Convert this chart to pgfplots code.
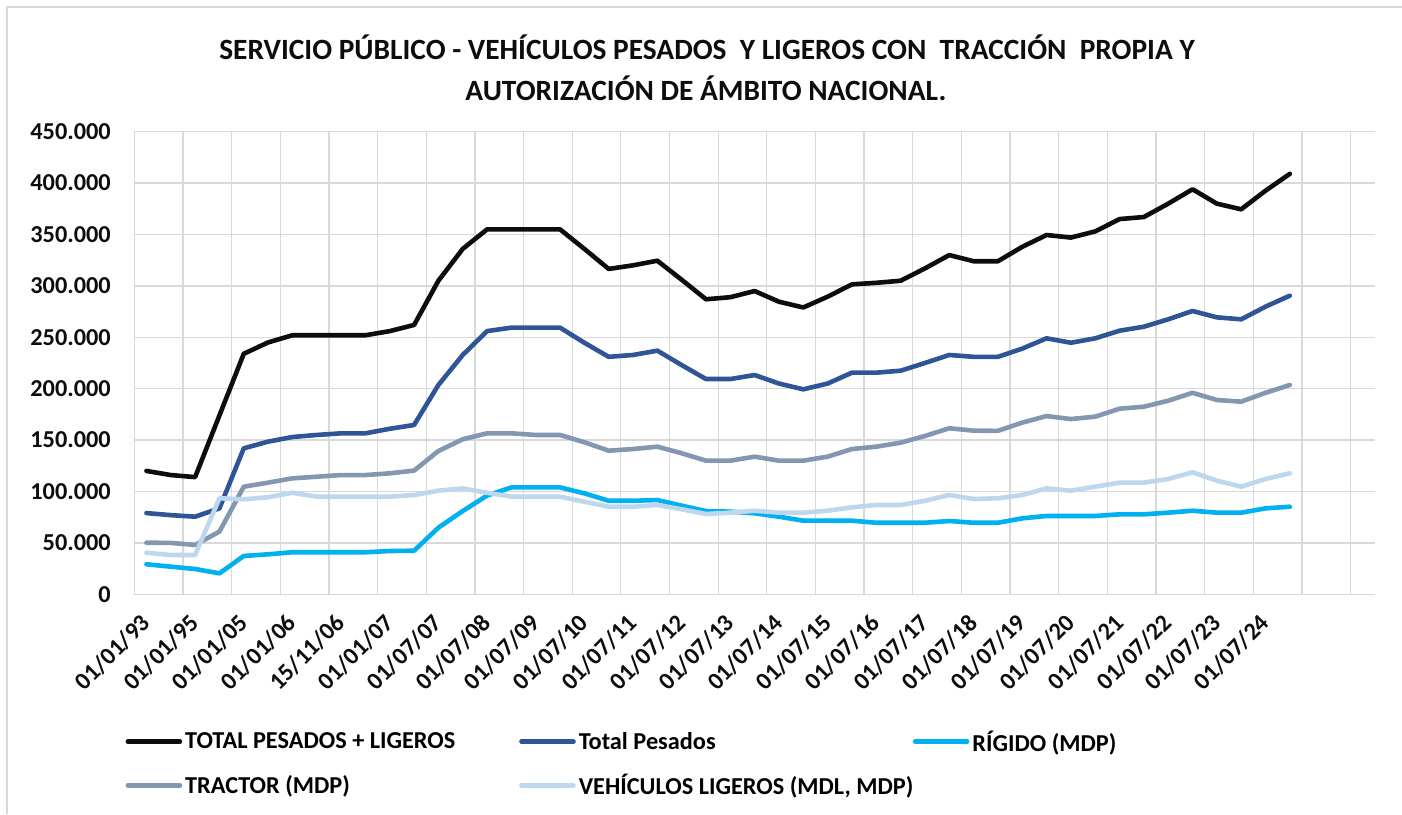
\documentclass[border=0pt]{standalone}
\usepackage{pgfplots}
\usepackage{pgfplotstable}
\pgfplotsset{compat=1.18}
\usepackage{fontspec}
\setmainfont{Carlito}
\definecolor{cTot}{HTML}{0D0D0D}
\definecolor{cPes}{HTML}{2F5597}
\definecolor{cRig}{HTML}{00B0F0}
\definecolor{cTra}{HTML}{8497B0}
\definecolor{cLig}{HTML}{BDD7EE}
\definecolor{cGrid}{HTML}{D9D9D9}
\pgfplotstableread{
i total pesados rigido tractor ligeros
0 120000 79000 29200 50200 40500
1 116000 77000 26900 50000 38200
2 114000 75500 24600 48000 38200
3 174000 83600 20400 61000 93400
4 234000 142000 37300 104700 92400
5 245000 148500 38900 108600 94400
6 252000 153000 40900 112800 98800
7 252000 155000 40900 114400 95000
8 252000 156600 40900 116000 95000
9 252000 156600 40900 116000 95000
10 256000 161000 42100 117700 95000
11 262000 164700 42400 120300 96600
12 305000 203600 64800 139400 100800
13 336000 232800 81000 150800 103000
14 355000 256000 96000 156600 98800
15 355000 259400 104000 156600 95000
16 355000 259400 104000 155000 95000
17 355000 259400 104000 155000 95000
18 336000 244700 98200 147900 90000
19 316500 231000 91000 139700 85200
20 320000 232800 91000 141300 85200
21 324500 237000 91700 143600 86900
22 306000 223000 86200 137200 82700
23 287000 209400 81000 130000 78100
24 289000 209400 80400 130000 79400
25 295000 213300 78800 133900 81300
26 284600 205000 75500 130000 79400
27 279000 199400 71600 130000 79400
28 289500 205000 71600 133900 81300
29 301500 215600 71600 141300 84600
30 303000 215600 69600 143600 86900
31 305000 217500 69600 147500 86900
32 317000 225000 69600 154000 91000
33 330000 232800 71300 161500 96600
34 324000 231000 69600 159200 92700
35 324000 231000 69600 159000 93400
36 338000 239000 73900 167000 96600
37 349500 249000 76200 173400 103000
38 347000 244700 76200 170500 100800
39 353000 249000 76200 172800 104700
40 365000 256400 77800 180500 108600
41 367000 260300 77800 182500 108600
42 380000 267500 79400 188300 112200
43 394000 275600 81300 196000 118700
44 380000 269400 79400 189000 110500
45 374500 267500 79400 187400 104700
46 392600 279800 83600 196000 112200
47 409000 290500 85200 203600 117700
}\datatable
\begin{document}
\begin{tikzpicture}[x=1pt,y=1pt]
\useasboundingbox (0,0) rectangle (1402,814);
\draw[cGrid, line width=1.2pt] (7,0) -- (7,807) -- (1402,807);
\node[font=\fontsize{29.4}{33}\selectfont\bfseries, color=cTot] at (707,767) {SERVICIO PÚBLICO - VEHÍCULOS PESADOS \ Y LIGEROS CON \ TRACCIÓN \ PROPIA Y};
\node[font=\fontsize{29.4}{33}\selectfont\bfseries, color=cTot] at (706,726) {AUTORIZACIÓN DE ÁMBITO NACIONAL.};
\begin{axis}[
  at={(134.3pt,219.7pt)}, anchor=south west,
  scale only axis, width=1240.7pt, height=462.6pt,
  xmin=-0.5, xmax=50.5, ymin=0, ymax=450000,
  scaled y ticks=false,
  axis line style={draw=none},
  tick style={draw=none},
  xtick={0,2,...,46},
  xticklabels={01/01/93,01/01/95,01/01/05,01/01/06,15/11/06,01/01/07,01/07/07,01/07/08,01/07/09,01/07/10,01/07/11,01/07/12,01/07/13,01/07/14,01/07/15,01/07/16,01/07/17,01/07/18,01/07/19,01/07/20,01/07/21,01/07/22,01/07/23,01/07/24},
  minor xtick={-0.5,1.5,...,49.6},
  xminorgrids, ymajorgrids,
  minor x grid style={cGrid, line width=1.3pt},
  major grid style={cGrid, line width=1.3pt},
  ytick={0,50000,...,450000},
  yticklabels={0,50.000,100.000,150.000,200.000,250.000,300.000,350.000,400.000,450.000},
  ticklabel style={font=\fontsize{24.3}{27}\selectfont\bfseries, color=cTot},
  yticklabel style={anchor=east, xshift=-20pt},
  xticklabel style={xshift=2pt, yshift=-22pt, rotate=45, anchor=east},
  legend columns=3,
  legend style={at={(axis description cs:-0.0096,-0.29)}, anchor=north west, draw=none, fill=none,
    font=\fontsize{24.3}{27}\selectfont\bfseries, column sep=0pt, row sep=22pt,
    nodes={inner sep=0pt}},
  legend image code/.code={\draw[#1, line cap=round] (0pt,0pt) -- (52pt,0pt);},
  every axis plot/.append style={line width=4.6pt, line cap=round, line join=round},
]
\addplot[cTot] table[x=i, y=total] {\datatable};
\addlegendentry{\hspace*{3pt}\makebox[334pt][l]{TOTAL PESADOS + LIGEROS}}
\addplot[cPes] table[x=i, y=pesados] {\datatable};
\addlegendentry{\hspace*{3pt}\makebox[334pt][l]{Total Pesados}}
\addplot[cRig] table[x=i, y=rigido] {\datatable};
\addlegendentry{\hspace*{3pt}\makebox[334pt][l]{RÍGIDO (MDP)}}
\addplot[cTra] table[x=i, y=tractor] {\datatable};
\addlegendentry{\hspace*{3pt}\makebox[334pt][l]{TRACTOR (MDP)}}
\addplot[cLig] table[x=i, y=ligeros] {\datatable};
\addlegendentry{\hspace*{3pt}\makebox[334pt][l]{VEHÍCULOS LIGEROS (MDL, MDP)}}
\end{axis}
\end{tikzpicture}
\end{document}
